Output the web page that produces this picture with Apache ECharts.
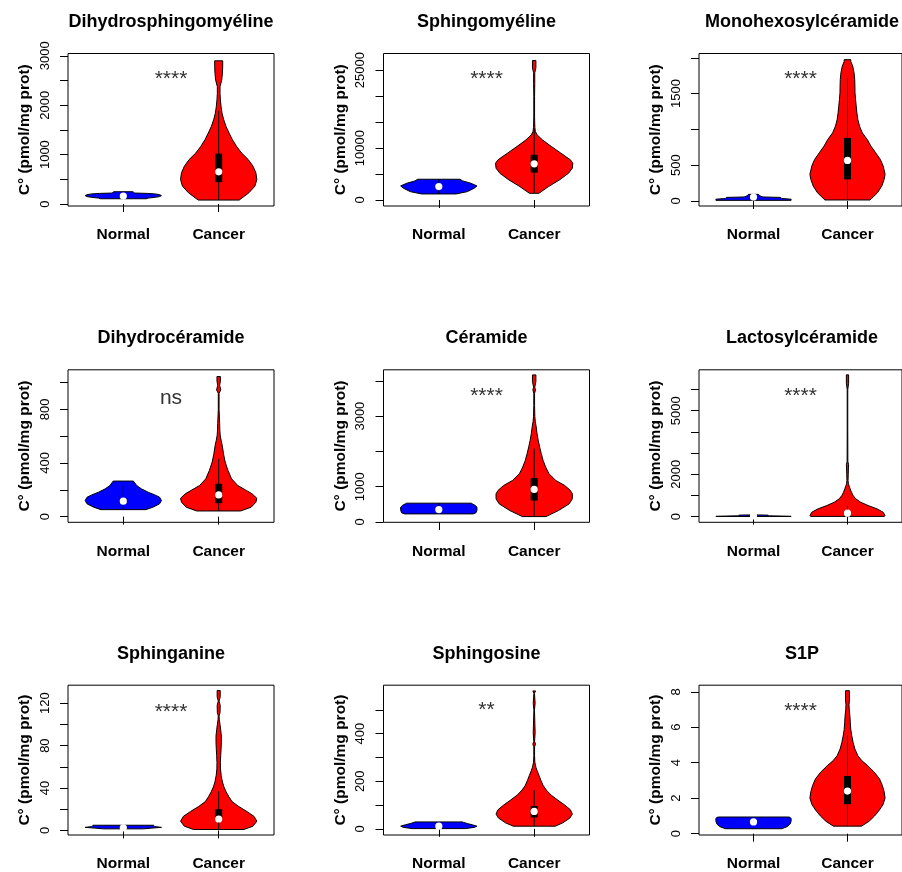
<!DOCTYPE html>
<html><head><meta charset="utf-8">
<script src="https://cdn.jsdelivr.net/npm/echarts@6/dist/echarts.min.js"></script>
<style>html,body{margin:0;padding:0;background:#fff}#c{width:902px;height:872px}</style>
</head><body><div id="c"></div>
<script>
// ---------- data ----------
const titles = ['Dihydrosphingomyéline','Sphingomyéline','Monohexosylcéramide',
                'Dihydrocéramide','Céramide','Lactosylcéramide',
                'Sphinganine','Sphingosine','S1P'];
const categories = ['Normal','Cancer'];
const yTitle = 'C° (pmol/mg prot)';
const sigLabels = ['****','****','****','ns','****','****','****','**','****'];
const sigY = [2530, 23200, 1700, 880, 3560, 5700, 112, 497, 6.88];

const yMin = [-40, -1160, -70, -42.5, -10, -269, -4.3, -26, -0.074];
const yMax = [3047, 28220, 2060, 1095, 4313, 6934, 137, 604, 8.37];
const yTicks = [
  [0,500,1000,1500,2000,2500,3000],
  [0,5000,10000,15000,20000,25000],
  [0,500,1000,1500,2000],
  [0,200,400,600,800,1000],
  [0,1000,2000,3000,4000],
  [0,1000,2000,3000,4000,5000,6000],
  [0,20,40,60,80,100,120],
  [0,100,200,300,400,500],
  [0,2,4,6,8]
];
const yTickLabels = [
  [0,1000,2000,3000],
  [0,10000,25000],
  [0,500,1500],
  [0,400,800],
  [0,1000,3000],
  [0,2000,5000],
  [0,40,80,120],
  [0,200,400],
  [0,2,4,6,8]
];

// violin profiles: [value, half-width in x units]
const dhsmNormal = [[107,0.24],[120,0.26],[135,0.33],[150,0.38],[170,0.40],[190,0.38],[205,0.33],[215,0.25],[222,0.12],[235,0.11],[249,0.10]];
const dhsmCancer = [[80,0.215],[228,0.317],[362,0.38],[497,0.40],[631,0.39],[765,0.36],[899,0.31],[1033,0.24],[1168,0.187],[1302,0.144],[1436,0.109],[1570,0.077],[1705,0.053],[1839,0.035],[1973,0.025],[2107,0.018],[2241,0.014],[2376,0.014],[2510,0.032],[2644,0.039],[2778,0.042],[2899,0.042]];
const smNormal = [[1160,0.18],[1611,0.30],[2255,0.37],[2706,0.40],[3222,0.336],[3673,0.25],[3995,0.22]];
const smCancer = [[1290,0.05],[2577,0.15],[3866,0.265],[5154,0.36],[6121,0.40],[7087,0.405],[7732,0.38],[9020,0.28],[10309,0.18],[11597,0.085],[12563,0.03],[13208,0.012],[14000,0.007],[16000,0.004],[20000,0.004],[22500,0.006],[24500,0.006],[25450,0.018],[26867,0.018]];
const mhcNormal = [[9,0.40],[25,0.40],[35,0.30],[50,0.29],[56,0.10],[70,0.07],[85,0.06],[93,0.05]];
const mhcCancer = [[14,0.24],[116,0.32],[209,0.365],[302,0.39],[372,0.40],[488,0.38],[580,0.35],[673,0.30],[766,0.25],[859,0.21],[952,0.158],[1045,0.128],[1138,0.11],[1231,0.10],[1324,0.093],[1416,0.086],[1509,0.08],[1602,0.079],[1695,0.077],[1788,0.07],[1881,0.056],[1950,0.035],[1974,0.035]];
const dhcNormal = [[52,0.235],[70,0.31],[95,0.38],[120,0.40],[145,0.38],[162,0.33],[182,0.26],[207,0.19],[232,0.14],[257,0.115],[265,0.105]];
const dhcCancer = [[42,0.23],[70,0.34],[107,0.39],[137,0.40],[170,0.35],[195,0.29],[232,0.20],[282,0.135],[345,0.097],[407,0.068],[470,0.05],[532,0.037],[570,0.025],[607,0.016],[645,0.012],[695,0.01],[800,0.004],[920,0.004],[945,0.022],[980,0.01],[1010,0.018],[1045,0.018]];
const cerNormal = [[228,0.36],[260,0.39],[330,0.40],[420,0.40],[470,0.38],[515,0.35],[532,0.34]];
const cerCancer = [[152,0.124],[323,0.255],[513,0.367],[655,0.40],[797,0.40],[892,0.38],[1035,0.32],[1177,0.226],[1367,0.155],[1557,0.12],[1747,0.093],[1937,0.074],[2127,0.057],[2317,0.042],[2506,0.03],[2696,0.021],[2839,0.012],[2981,0.007],[3300,0.004],[3650,0.004],[3741,0.014],[3820,0.006],[3978,0.018],[4168,0.018]];
const lacNormal = [[5,0.40],[15,0.40],[25,0.30],[35,0.17],[55,0.16],[70,0.15],[80,0.05]];
const lacCancer = [[10,0.39],[48,0.40],[206,0.38],[364,0.315],[522,0.22],[681,0.14],[839,0.088],[997,0.06],[1155,0.042],[1314,0.028],[1472,0.016],[1551,0.01],[1700,0.006],[2000,0.008],[2300,0.01],[2450,0.012],[2600,0.004],[4000,0.003],[6000,0.003],[6300,0.012],[6696,0.012]];
const sphaNormal = [[1.5,0.21],[2.2,0.30],[2.9,0.40],[3.6,0.33],[4.5,0.32],[4.9,0.32]];
const sphaCancer = [[0.9,0.264],[4.0,0.36],[8.7,0.40],[13.3,0.37],[17.9,0.295],[22.6,0.21],[27.2,0.14],[31.9,0.106],[36.5,0.078],[41.1,0.055],[45.8,0.039],[52,0.026],[58,0.019],[64,0.018],[70.5,0.021],[76.7,0.025],[82.9,0.028],[89,0.028],[95,0.021],[99.9,0.014],[104.5,0.007],[108,0.004],[111,0.014],[118,0.016],[122,0.004],[126,0.016],[132,0.016]];
const sphoNormal = [[1,0.28],[6,0.37],[11,0.40],[17,0.35],[22,0.30],[27,0.26],[29,0.25]];
const sphoCancer = [[11,0.22],[25,0.30],[45.5,0.375],[62,0.40],[80,0.38],[100,0.32],[121,0.247],[142,0.177],[163,0.127],[183,0.093],[204,0.07],[225,0.05],[245,0.03],[259,0.018],[280,0.007],[307,0.004],[345,0.004],[356,0.014],[368,0.004],[404,0.01],[432,0.008],[500,0.003],[528,0.01],[570,0.003],[580,0.014]];
const s1pNormal = [[0.28,0.30],[0.4,0.36],[0.55,0.39],[0.7,0.40],[0.85,0.40],[0.92,0.39],[0.94,0.37]];
const s1pCancer = [[0.425,0.15],[0.70,0.23],[0.98,0.285],[1.26,0.33],[1.63,0.377],[2.0,0.40],[2.37,0.39],[2.73,0.37],[3.1,0.34],[3.47,0.285],[3.84,0.214],[4.12,0.152],[4.40,0.11],[4.77,0.079],[5.14,0.06],[5.51,0.046],[5.88,0.035],[6.25,0.03],[6.62,0.026],[6.99,0.019],[7.26,0.016],[7.54,0.021],[7.82,0.021],[8.06,0.021]];

// box-plot statistics per panel
const normalLo     = [107, 1160, 9, 57, 228, 5, 1.5, 1, 0.28];
const normalQ1     = [150, 2400, 45, 100, 330, 20, 2.2, 9, 0.6];
const normalMedian = [161, 2577, 56, 115, 351, 30, 2.5, 11, 0.665];
const normalQ3     = [175, 2800, 62, 135, 370, 40, 2.9, 13, 0.72];
const normalHi     = [249, 3995, 93, 232, 532, 80, 4.9, 29, 0.94];
const cancerLo     = [80, 1290, 14, 42, 152, 10, 0.9, 11, 0.425];
const cancerQ1     = [443, 5283, 302, 100, 608, 60, 9.5, 48, 1.66];
const cancerMedian = [651, 6958, 567, 162, 921, 160, 10.8, 73, 2.40];
const cancerQ3     = [1020, 8698, 882, 245, 1244, 230, 20, 96, 3.25];
const cancerHi     = [1886, 13820, 1718, 432, 2080, 520, 37, 163, 5.56];

const normalProfiles = [dhsmNormal, smNormal, mhcNormal, dhcNormal, cerNormal, lacNormal, sphaNormal, sphoNormal, s1pNormal];
const cancerProfiles = [dhsmCancer, smCancer, mhcCancer, dhcCancer, cerCancer, lacCancer, sphaCancer, sphoCancer, s1pCancer];

// ---------- layout ----------
const FONT = "'Liberation Sans', Arial, Helvetica, sans-serif";
const gridLeft = [68, 383.5, 699];
const gridTop = [53.5, 369.8, 685.2];
const gridW = 206, gridH = 152.5;

const chart = echarts.init(document.getElementById('c'), null, {renderer: 'canvas'});

function makeRender(pi) {
  return function (params, api) {
    const k = params.dataIndex;
    if (k === 2) {
      const pt = api.coord([1.5, sigY[pi]]);
      return {type: 'text', x: pt[0], y: pt[1],
        style: {text: sigLabels[pi], fill: '#333', fontSize: 21, fontFamily: FONT,
                align: 'center', verticalAlign: 'middle'}};
    }
    const cx = k + 1;
    const prof = k === 0 ? normalProfiles[pi] : cancerProfiles[pi];
    const st = k === 0
      ? [normalLo[pi], normalQ1[pi], normalMedian[pi], normalQ3[pi], normalHi[pi]]
      : [cancerLo[pi], cancerQ1[pi], cancerMedian[pi], cancerQ3[pi], cancerHi[pi]];
    const pts = [];
    for (let i = 0; i < prof.length; i++) pts.push(api.coord([cx + prof[i][1], prof[i][0]]));
    for (let i = prof.length - 1; i >= 0; i--) pts.push(api.coord([cx - prof[i][1], prof[i][0]]));
    const lo = api.coord([cx, st[0]]), q1 = api.coord([cx, st[1]]);
    const md = api.coord([cx, st[2]]), q3 = api.coord([cx, st[3]]), hi = api.coord([cx, st[4]]);
    return {type: 'group', children: [
      {type: 'polygon', shape: {points: pts},
       style: {fill: k === 0 ? '#0000ff' : '#ff0000', stroke: '#000', lineWidth: 1}},
      {type: 'line', shape: {x1: md[0], y1: lo[1], x2: md[0], y2: hi[1]},
       style: {stroke: '#000', lineWidth: 1}},
      {type: 'rect', shape: {x: md[0] - 3.5, y: q3[1], width: 7, height: q1[1] - q3[1]},
       style: {fill: '#000'}},
      {type: 'circle', shape: {cx: md[0], cy: md[1], r: 3.6}, style: {fill: '#fff'}}
    ]};
  };
}

const grids = [], xAxes = [], yAxes = [], series = [], titleList = [];
for (let i = 0; i < 9; i++) {
  const c = i % 3, r = Math.floor(i / 3);
  grids.push({left: gridLeft[c], top: gridTop[r], width: gridW, height: gridH,
    show: true, borderColor: '#000', borderWidth: 1, backgroundColor: 'transparent'});
  xAxes.push({type: 'value', gridIndex: i, min: 0.42, max: 2.58,
    axisLine: {show: false}, splitLine: {show: false},
    axisTick: {show: true, length: 8, customValues: [1, 2], lineStyle: {color: '#000', width: 1}},
    axisLabel: {show: true, customValues: [1, 2], margin: 21,
      formatter: v => categories[Math.round(v) - 1],
      fontFamily: FONT, fontSize: 15.5, fontWeight: 'bold', color: '#000'}});
  yAxes.push({type: 'value', gridIndex: i, min: yMin[i], max: yMax[i],
    axisLine: {show: false}, splitLine: {show: false},
    axisTick: {show: true, length: 8, customValues: yTicks[i], lineStyle: {color: '#000', width: 1}},
    axisLabel: {show: true, customValues: yTickLabels[i], rotate: 90, margin: 16.5,
      formatter: v => String(v), fontFamily: FONT, fontSize: 13, color: '#000'},
    name: yTitle, nameLocation: 'middle', nameRotate: 90, nameGap: 35,
    nameTextStyle: {fontFamily: FONT, fontSize: 15.5, fontWeight: 'bold', color: '#000'}});
  series.push({type: 'custom', xAxisIndex: i, yAxisIndex: i, coordinateSystem: 'cartesian2d',
    renderItem: makeRender(i), silent: true, animation: false,
    data: [[1, 0], [2, 0], [1.5, 0]], encode: {x: 0, y: 1}});
  titleList.push({text: titles[i], left: gridLeft[c] + gridW / 2, top: gridTop[r] - 40.5,
    textAlign: 'center', padding: 0,
    textStyle: {fontFamily: FONT, fontSize: 18, fontWeight: 'bold', color: '#000'}});
}

chart.setOption({
  animation: false,
  backgroundColor: '#fff',
  title: titleList,
  grid: grids, xAxis: xAxes, yAxis: yAxes, series: series
});
</script></body></html>
